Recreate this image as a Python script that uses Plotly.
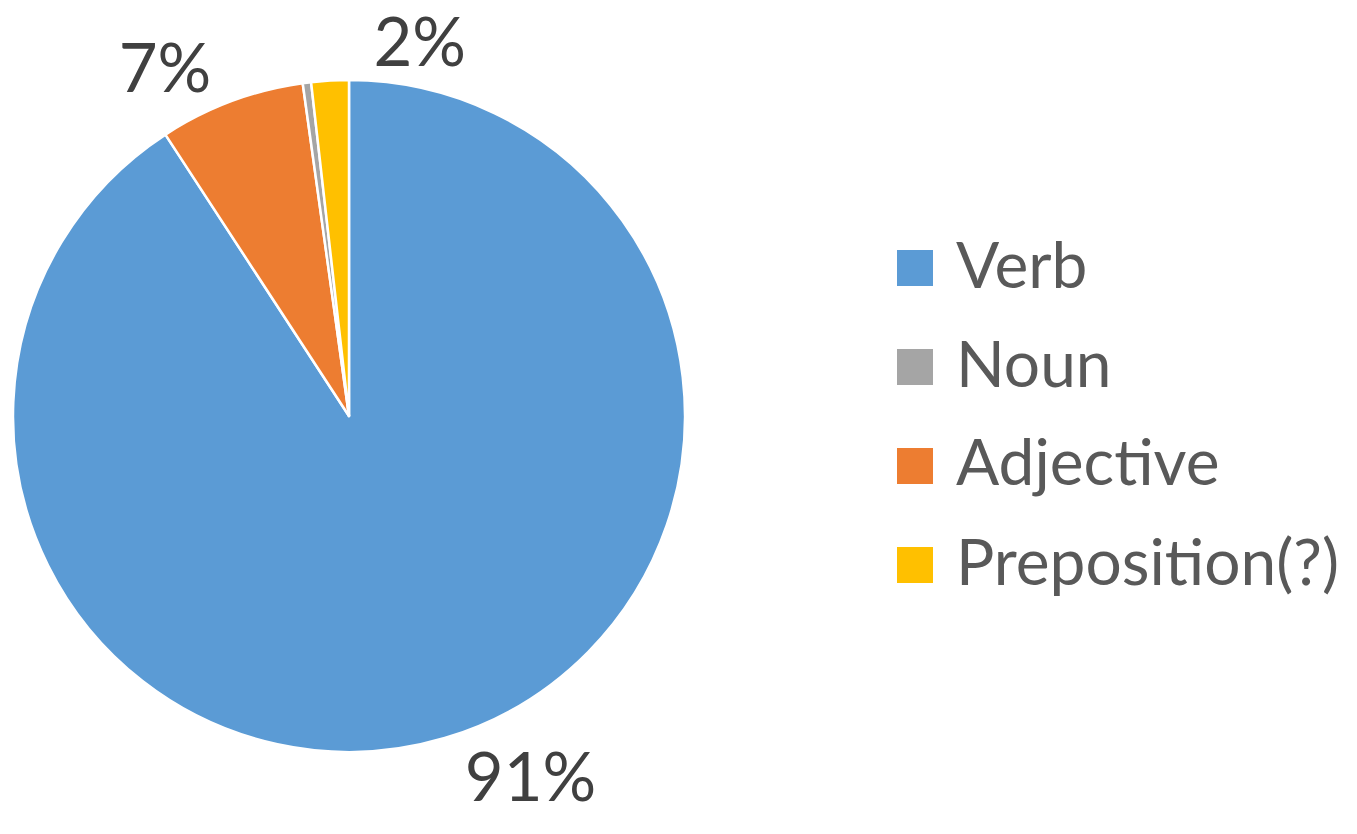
import plotly.graph_objects as go

# Data (clockwise order as drawn in the pie)
categories = ["Verb", "Adjective", "Noun", "Preposition(?)"]
values = [90.8, 7.0, 0.4, 1.8]
colors = ["#5B9BD5", "#ED7D31", "#A5A5A5", "#FFC000"]
# which slices carry a percentage label (Noun has none in the reference)
label_main = [True, True, False, False]
label_top = [False, False, False, True]

# Legend order as shown in the reference
legend_order = ["Verb", "Noun", "Adjective", "Preposition(?)"]

W, H = 1357, 834
FONT = "Lato, 'Open Sans', sans-serif"
OFF = 8  # page (body) offset of the plot div

# Pie geometry (pixels, as seen in the page)
cx, cy, r = 349 - OFF, 416 - OFF, 336
domain = dict(x=[(cx - r) / W, (cx + r) / W],
              y=[(H - cy - r) / H, (H - cy + r) / H])
label_font = dict(family=FONT, size=67, color="#404040")

fig = go.Figure()
# Transparent helper pie: carries only the small top slice's label so that it
# is placed on its own (not pushed away by the 7% label).
fig.add_trace(go.Pie(
    labels=categories,
    values=values,
    sort=False,
    direction="clockwise",
    rotation=4,
    marker=dict(colors=["rgba(0,0,0,0)"] * len(values), line=dict(width=0)),
    texttemplate=["%{percent:.0%}" if s else "" for s in label_top],
    textposition="outside",
    outsidetextfont=label_font,
    showlegend=False,
    automargin=False,
    hoverinfo="skip",
    domain=domain,
))
# Visible pie
fig.add_trace(go.Pie(
    labels=categories,
    values=values,
    sort=False,
    direction="clockwise",
    rotation=0,
    marker=dict(colors=colors, line=dict(color="white", width=2.5)),
    texttemplate=["%{percent:.0%}" if s else "" for s in label_main],
    textposition="outside",
    outsidetextfont=label_font,
    showlegend=False,
    automargin=False,
    hoverinfo="label+percent",
    domain=domain,
))

# Manual legend (large squares + labels)
color_of = dict(zip(categories, colors))
leg_x0, sq = 897 - OFF, 36
leg_y0, step = 268 - OFF, 99
text_x = 954 - OFF
text_dy = -5
shapes, annotations = [], []
for i, name in enumerate(legend_order):
    yc = leg_y0 + i * step
    shapes.append(dict(
        type="rect", xref="paper", yref="paper",
        x0=leg_x0 / W, x1=(leg_x0 + sq) / W,
        y0=(H - yc - sq / 2) / H, y1=(H - yc + sq / 2) / H,
        fillcolor=color_of[name], line=dict(width=0),
    ))
    annotations.append(dict(
        text=name, xref="paper", yref="paper",
        x=text_x / W, y=(H - yc - text_dy) / H,
        xanchor="left", yanchor="middle", showarrow=False,
        font=dict(family=FONT, size=64, color="#595959"),
    ))

fig.update_layout(
    width=W, height=H,
    margin=dict(l=0, r=0, t=0, b=0, pad=0, autoexpand=False),
    paper_bgcolor="white",
    plot_bgcolor="white",
    shapes=shapes,
    annotations=annotations,
    font=dict(family=FONT),
)

fig.write_html("out.html")
